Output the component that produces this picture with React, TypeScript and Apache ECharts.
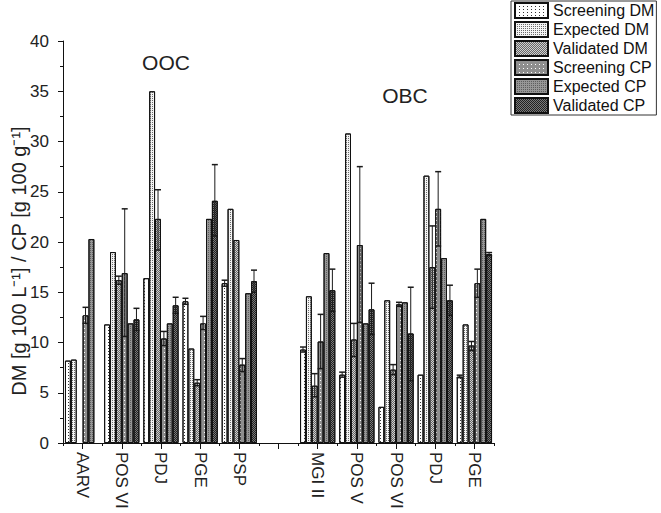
import React, { useEffect, useRef } from "react";
import * as echarts from "echarts";

const categories = ["AARV", "POS VI", "PDJ", "PGE", "PSP", "", "MGI II", "POS V", "POS VI", "PDJ", "PGE"];
const seriesNames = ["Screening DM", "Expected DM", "Validated DM", "Screening CP", "Expected CP", "Validated CP"];

const screeningDM = [8.2, 11.8, 16.4, 14.1, 15.9, null, 9.3, 6.8, 3.6, 6.8, 6.6];
const expectedDM = [8.3, 19.0, 35.0, 9.4, 23.3, null, 14.6, 30.8, 14.2, 26.6, 11.8];
const validatedDM = [null, 16.2, 22.3, 6.0, 20.2, null, 5.7, 10.3, 7.3, 17.5, 9.7];
const screeningCP = [12.7, 16.9, 10.4, 11.9, 7.8, null, 10.1, 19.7, 13.8, 23.3, 15.9];
const expectedCP = [20.3, 11.9, 11.9, 22.3, 14.9, null, 18.9, 11.9, 14.0, 18.4, 22.3];
const validatedCP = [null, 12.3, 13.7, 24.1, 16.1, null, 15.2, 13.3, 10.9, 14.2, 18.8];

// [low, high] error ranges (null = no error bar)
const screeningDMErr = [null, null, null, [13.8, 14.4], [15.6, 16.2], null, [9.05, 9.55], [6.55, 7.05], null, null, [6.5, 6.75]];
const expectedDMErr = [null, null, null, null, null, null, null, null, null, null, null];
const validatedDMErr = [null, [15.8, 16.6], [19.2, 25.2], [5.7, 6.3], null, null, [4.6, 6.9], [8.6, 11.9], [6.8, 7.8], [13.4, 21.6], [9.2, 10.1]];
const screeningCPErr = [[11.9, 13.5], [10.6, 23.3], [9.7, 11.1], [11.3, 12.6], [7.1, 8.4], null, [7.4, 12.8], [12.0, 27.5], [13.6, 14.0], [19.6, 27.0], [14.5, 17.3]];
const expectedCPErr = [null, null, null, null, null, null, null, null, null, null, null];
const validatedCPErr = [null, [11.2, 13.4], [12.9, 14.5], [20.6, 27.7], [15.0, 17.2], null, [13.1, 17.3], [10.8, 15.9], [6.2, 15.5], [12.7, 15.7], [18.65, 18.95]];

const yTicks = { min: 0, max: 40, interval: 5 };

const FONT = "'Liberation Sans', Arial, sans-serif";
const CAT_GAP = 0.1;

const styles = [
  { color: "#ffffff", decal: { symbol: "rect", symbolSize: 1, color: "#333", dashArrayX: [1, 3], dashArrayY: [1, 2] } },
  { color: "#f4f4f4", decal: { symbol: "rect", symbolSize: 1, color: "#6a6a6a", dashArrayX: [1, 1], dashArrayY: [1, 1] } },
  { color: "#d0d0d0", decal: { symbol: "rect", symbolSize: 1, color: "#666", dashArrayX: [[1, 1], [0, 1, 1, 0]], dashArrayY: [1, 0] } },
  { color: "#8e8e8e", decal: { symbol: "rect", symbolSize: 1, color: "#ffffff", dashArrayX: [1, 3], dashArrayY: [1, 3] } },
  { color: "#969696", decal: { symbol: "rect", symbolSize: 1, color: "#5e5e5e", dashArrayX: [1, 1], dashArrayY: [1, 1] } },
  { color: "#7a7a7a", decal: { symbol: "rect", symbolSize: 1, color: "#222", dashArrayX: [[1, 1], [0, 1, 1, 0]], dashArrayY: [1, 0] } },
];

export default function App() {
  const ref = useRef<HTMLDivElement>(null);
  useEffect(() => {
    document.body.style.margin = "0";
    const chart = echarts.init(ref.current!, null, { renderer: "svg" });
    const values = [screeningDM, expectedDM, validatedDM, screeningCP, expectedCP, validatedCP];
    const errs = [screeningDMErr, expectedDMErr, validatedDMErr, screeningCPErr, expectedCPErr, validatedCPErr];
    const errData: any[] = [];
    errs.forEach((arr, slot) => {
      arr.forEach((e: any, cat) => {
        if (e) errData.push([cat, e[0], e[1], slot]);
      });
    });

    const barSeries = seriesNames.map((name, i) => ({
      name,
      type: "bar",
      xAxisIndex: 0,
      barGap: "0%",
      barCategoryGap: CAT_GAP * 100 + "%",
      data: values[i].map((v) => (v === null ? "-" : v)),
      itemStyle: {
        color: styles[i].color,
        decal: styles[i].decal,
        borderColor: "#111",
        borderWidth: 1,
      },
    }));

    const option: any = {
      animation: false,
      textStyle: { fontFamily: FONT },
      grid: { left: 63, right: 167, top: 41, bottom: 70, containLabel: false },
      legend: {
        data: seriesNames,
        orient: "vertical",
        left: 511,
        top: 1,
        icon: "rect",
        itemWidth: 33,
        itemHeight: 15,
        itemGap: 2,
        padding: [1, 2, 1, 3],
        borderColor: "#333",
        borderWidth: 1,
        textStyle: { fontSize: 16, lineHeight: 17, color: "#111", fontFamily: FONT, padding: [0, 0, 0, 0] },
        selectedMode: false,
      },
      xAxis: [
        {
          type: "category",
          data: categories,
          position: "bottom",
          axisLine: { show: true, lineStyle: { color: "#111", width: 1 } },
          axisTick: { show: true, alignWithLabel: true, length: 6, interval: 0, lineStyle: { color: "#111" } },
          axisLabel: { rotate: -90, fontSize: 17, color: "#222", margin: 9, interval: 0, fontFamily: FONT },
          splitLine: { show: false },
        },
        {
          type: "category",
          data: categories,
          position: "bottom",
          axisLine: { show: false },
          axisTick: { show: true, alignWithLabel: false, length: 3, interval: 0, lineStyle: { color: "#111" } },
          axisLabel: { show: false },
          splitLine: { show: false },
        },
      ],
      yAxis: {
        type: "value",
        min: yTicks.min,
        max: yTicks.max,
        interval: yTicks.interval,
        axisLine: { show: true, lineStyle: { color: "#111", width: 1 } },
        axisTick: { show: true, length: 5, lineStyle: { color: "#111" } },
        minorTick: { show: true, splitNumber: 2, length: 3, lineStyle: { color: "#111" } },
        splitLine: { show: false },
        axisLabel: { fontSize: 17, color: "#222", margin: 14, fontFamily: FONT },
      },
      series: [
        ...barSeries,
        {
          type: "custom",
          name: "err",
          xAxisIndex: 0,
          z: 10,
          encode: { x: 0, y: [1, 2] },
          data: errData,
          renderItem: (params: any, api: any) => {
            const cat = api.value(0);
            const lo = api.value(1);
            const hi = api.value(2);
            const slot = api.value(3);
            const band = api.size([1, 0])[0];
            const bw = (band * (1 - CAT_GAP)) / 6;
            const p1 = api.coord([cat, lo]);
            const p2 = api.coord([cat, hi]);
            const x = p1[0] + (slot - 2.5) * bw;
            const half = 3;
            const st = { stroke: "#1a1a1a", lineWidth: 1 };
            return {
              type: "group",
              children: [
                { type: "line", shape: { x1: x, y1: p1[1], x2: x, y2: p2[1] }, style: st },
                { type: "line", shape: { x1: x - half, y1: p2[1], x2: x + half, y2: p2[1] }, style: { ...st, lineWidth: 1.5 } },
                { type: "line", shape: { x1: x - half, y1: p1[1], x2: x + half, y2: p1[1] }, style: { ...st, lineWidth: 1.5 } },
              ],
            };
          },
        },
      ],
      graphic: [
        { type: "text", x: 166, y: 62, style: { text: "OOC", fill: "#222", font: "21px " + FONT, align: "center", verticalAlign: "middle" } },
        { type: "text", x: 405, y: 95, style: { text: "OBC", fill: "#222", font: "21px " + FONT, align: "center", verticalAlign: "middle" } },
        {
          type: "text",
          x: 19,
          y: 261,
          rotation: Math.PI / 2,
          style: {
            text: "DM [g 100 L\u207B\u00B9] / CP [g 100 g\u207B\u00B9]",
            fill: "#222",
            font: "20px " + FONT,
            align: "center",
            verticalAlign: "middle",
          },
        },
      ],
    };
    chart.setOption(option);
    return () => chart.dispose();
  }, []);
  return <div ref={ref} style={{ width: 661, height: 513 }} />;
}
